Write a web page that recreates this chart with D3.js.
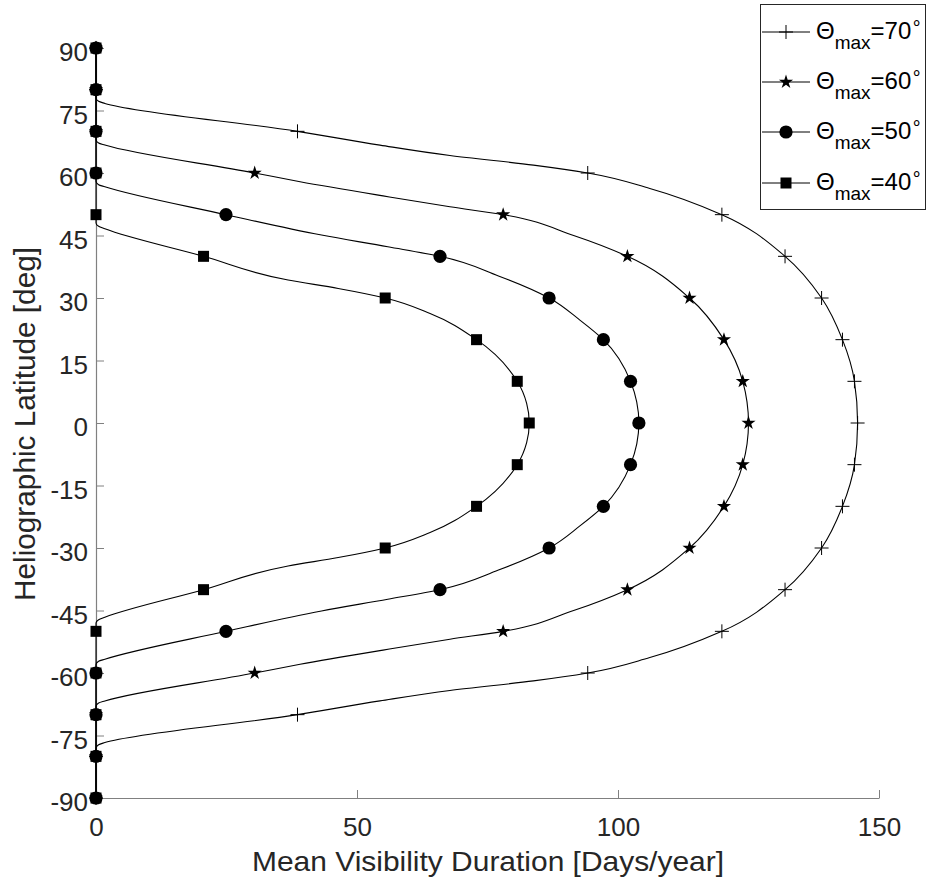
<!DOCTYPE html>
<html>
<head>
<meta charset="utf-8">
<script src="https://cdn.jsdelivr.net/npm/d3@7/dist/d3.min.js"></script>
<style>
  html, body { margin: 0; padding: 0; background: #fff; }
  svg { display: block; }
  text { font-family: "Liberation Sans", Arial, Helvetica, sans-serif; fill: #262626; }
</style>
</head>
<body>
<svg id="chart" width="930" height="888"></svg>
<script>
// ---------- data ----------
const xTicks = [0, 50, 100, 150];
const yTicks = [-90, -75, -60, -45, -30, -15, 0, 15, 30, 45, 60, 75, 90];
const seriesNames = ["70", "60", "50", "40"];

// marker latitudes (every 10 deg)
const markerLat = [90, 80, 70, 60, 50, 40, 30, 20, 10, 0, -10, -20, -30, -40, -50, -60, -70, -80, -90];
const marker70 = [0, 0, 38.6, 94.2, 119.9, 132.0, 139.0, 143.0, 145.3, 145.9, 145.3, 143.0, 139.0, 132.0, 119.9, 94.2, 38.6, 0, 0];
const marker60 = [0, 0, 0, 30.4, 78.0, 101.8, 113.7, 120.3, 123.9, 125.0, 123.9, 120.3, 113.7, 101.8, 78.0, 30.4, 0, 0, 0];
const marker50 = [0, 0, 0, 0, 24.9, 65.9, 86.8, 97.2, 102.4, 104.0, 102.4, 97.2, 86.8, 65.9, 24.9, 0, 0, 0, 0];
const marker40 = [0, 0, 0, 0, 0, 20.6, 55.4, 72.9, 80.7, 83.0, 80.7, 72.9, 55.4, 20.6, 0, 0, 0, 0, 0];

// line samples (lat, value)
const line70Lat = [90, 80, 78, 77.2, 76.7, 70, 66.7, 64.2, 61.9, 60, 56.3, 50, 40, 30, 20, 10, 0, -10, -20, -30, -40, -50, -56.3, -60, -61.9, -64.2, -66.7, -70, -76.7, -77.2, -78, -80, -90];
const line70Val = [0, 0, 0, 0.5, 1.7, 38.6, 54.4, 67.8, 83.8, 94.2, 106.1, 119.9, 132.0, 139.0, 143.0, 145.3, 145.9, 145.3, 143.0, 139.0, 132.0, 119.9, 106.1, 94.2, 83.8, 67.8, 54.4, 38.6, 1.7, 0.5, 0, 0, 0];
const line60Lat = [90, 70, 68, 67.2, 66.7, 60, 57.9, 54.5, 51.9, 50, 45, 40, 30, 20, 10, 0, -10, -20, -30, -40, -45, -50, -51.9, -54.5, -57.9, -60, -66.7, -67.2, -68, -70, -90];
const line60Val = [0, 0, 0, 0.5, 1.7, 30.4, 39.1, 55.0, 67.8, 78.0, 91.5, 101.8, 113.7, 120.3, 123.9, 125.0, 123.9, 120.3, 113.7, 101.8, 91.5, 78.0, 67.8, 55.0, 39.1, 30.4, 1.7, 0.5, 0, 0, 0];
const line50Lat = [90, 60, 58, 57.2, 56.7, 50, 45.1, 42.3, 40, 35.3, 30, 24.7, 20, 10, 0, -10, -20, -24.7, -30, -35.3, -40, -42.3, -45.1, -50, -56.7, -57.2, -58, -60, -90];
const line50Val = [0, 0, 0, 0.5, 1.7, 24.9, 43.2, 55.9, 65.9, 77.1, 86.8, 92.7, 97.2, 102.4, 104.0, 102.4, 97.2, 92.7, 86.8, 77.1, 65.9, 55.9, 43.2, 24.9, 1.7, 0.5, 0, 0, 0];
const line40Lat = [90, 50, 48, 47.2, 46.6, 40, 34.3, 32.3, 30, 26.3, 20, 10, 4.7, 0, -4.7, -10, -20, -26.3, -30, -32.3, -34.3, -40, -46.6, -47.2, -48, -50, -90];
const line40Val = [0, 0, 0, 0.5, 1.7, 20.6, 36.8, 46.4, 55.4, 64.0, 72.9, 80.7, 82.5, 83.0, 82.5, 80.7, 72.9, 64.0, 55.4, 46.4, 36.8, 20.6, 1.7, 0.5, 0, 0, 0];

// ---------- chart ----------
const svg = d3.select("#chart");
const x = d3.scaleLinear().domain([0, 150]).range([96, 879]);
const y = d3.scaleLinear().domain([-90, 90]).range([798, 48]);
const axisColor = "#808080";
const fmt = d => String(d).replace("\u2212", "-");

// axes
const gx = svg.append("g").attr("transform", `translate(0,${y(-90)})`)
  .call(d3.axisBottom(x).tickValues(xTicks).tickFormat(fmt).tickSizeInner(-8).tickSizeOuter(0).tickPadding(20));
const gy = svg.append("g").attr("transform", `translate(${x(0)},0)`)
  .call(d3.axisLeft(y).tickValues(yTicks).tickFormat(fmt).tickSizeInner(-8).tickSizeOuter(0).tickPadding(8));
[gx, gy].forEach(g => {
  g.select(".domain").attr("stroke", axisColor).attr("stroke-width", 1.2);
  g.selectAll(".tick line").attr("stroke", axisColor).attr("stroke-width", 1);
  g.selectAll(".tick text").attr("fill", "#262626").style("font-size", "26px")
    .style("font-family", "'Liberation Sans', Arial, sans-serif");
});
gy.selectAll(".tick text").attr("dy", "12.5px");
gx.selectAll(".tick text").attr("dy", "0.71em");

// axis labels
svg.append("text").attr("x", 488).attr("y", 871).attr("text-anchor", "middle")
  .attr("textLength", 472).attr("lengthAdjust", "spacingAndGlyphs")
  .style("font-size", "28px").text("Mean Visibility Duration [Days/year]");
svg.append("text").attr("transform", `translate(35,424) rotate(-90)`).attr("text-anchor", "middle")
  .attr("textLength", 354).attr("lengthAdjust", "spacingAndGlyphs")
  .style("font-size", "29px").text("Heliographic Latitude [deg]");

// symbols
function plusPath(s) { return `M${-s},0H${s}M0,${-s}V${s}`; }
const markerDefs = {
  "70": { draw: g => g.append("path").attr("d", plusPath(7)).attr("fill", "none").attr("stroke", "#000").attr("stroke-width", 1) },
  "60": { draw: g => g.append("path").attr("d", d3.symbol(d3.symbolStar, 62)()).attr("fill", "#000") },
  "50": { draw: g => g.append("circle").attr("r", 6.6).attr("fill", "#000") },
  "40": { draw: g => g.append("path").attr("d", d3.symbol(d3.symbolSquare, 121)()).attr("fill", "#000") }
};

const series = {
  "70": { lat: line70Lat, val: line70Val, m: marker70 },
  "60": { lat: line60Lat, val: line60Val, m: marker60 },
  "50": { lat: line50Lat, val: line50Val, m: marker50 },
  "40": { lat: line40Lat, val: line40Val, m: marker40 }
};

const line = d3.line().x(d => x(d[1])).y(d => y(d[0])).curve(d3.curveMonotoneY);
const drawOrder = ["70", "60", "40", "50"];
const plot = svg.append("g");
drawOrder.forEach(k => {
  const s = series[k];
  const pts = s.lat.map((la, i) => [la, s.val[i]]);
  plot.append("path").attr("d", line(pts)).attr("fill", "none")
    .attr("stroke", "#000").attr("stroke-width", 1.1);
});
drawOrder.forEach(k => {
  const s = series[k];
  markerLat.forEach((la, i) => {
    const g = plot.append("g").attr("transform", `translate(${x(s.m[i])},${y(la)})`);
    markerDefs[k].draw(g);
  });
});

// legend
const lg = svg.append("g");
lg.append("rect").attr("x", 760.5).attr("y", 4.5).attr("width", 165).attr("height", 205)
  .attr("fill", "#fff").attr("stroke", "#262626").attr("stroke-width", 1);
const legendY = [32, 82, 132, 183];
seriesNames.forEach((k, i) => {
  const ly = legendY[i];
  lg.append("line").attr("x1", 762).attr("x2", 810).attr("y1", ly).attr("y2", ly)
    .attr("stroke", "#000").attr("stroke-width", 1);
  const g = lg.append("g").attr("transform", `translate(786,${ly})`);
  markerDefs[k].draw(g);
  const t = lg.append("text").attr("x", 816).attr("y", ly + 7).style("font-size", "24px").style("fill", "#000");
  t.append("tspan").text("Θ");
  t.append("tspan").attr("dy", 10).style("font-size", "19px").text("max");
  t.append("tspan").attr("dy", -10).text("=" + k);
  t.append("tspan").attr("dy", -11).style("font-size", "18px").text("∘");
});
</script>
</body>
</html>
